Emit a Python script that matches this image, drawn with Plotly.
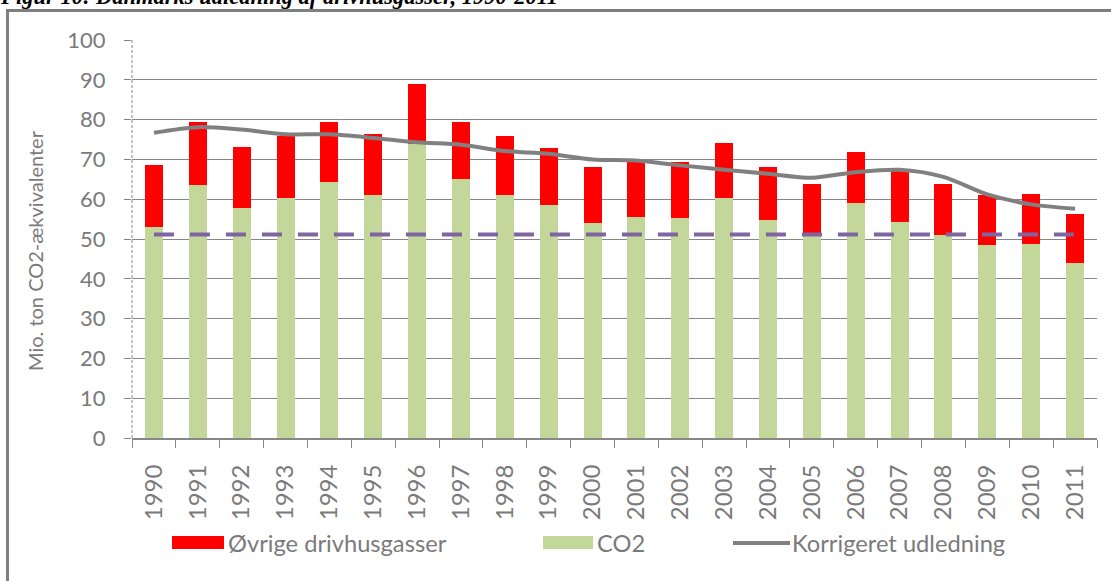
import plotly.graph_objects as go

years = [str(y) for y in range(1990, 2012)]
co2 = [53.0, 63.5, 57.7, 60.2, 64.3, 61.0, 73.9, 65.0, 61.0, 58.5, 54.0,
       55.5, 55.2, 60.2, 54.7, 51.2, 59.0, 54.2, 51.0, 48.5, 48.7, 43.9]
other = [15.7, 15.8, 15.3, 15.7, 15.2, 15.3, 15.1, 14.5, 14.8, 14.3, 14.2,
         13.8, 14.1, 13.8, 13.5, 12.5, 12.8, 13.0, 12.7, 12.5, 12.5, 12.3]
corrected = [76.7, 78.1, 77.5, 76.3, 76.3, 75.4, 74.3, 73.7, 72.1, 71.4, 70.0,
             69.7, 68.5, 67.4, 66.4, 65.4, 66.8, 67.4, 65.6, 61.2, 58.7, 57.6]
target = [51.1] * 22
yticks = list(range(0, 101, 10))

FONT = "Lato"
GRAY_TXT = "#7a7a7a"
GRID = "#878787"
RED = "#FF0000"
GREEN = "#C4D79B"
LINEGRAY = "#808080"
PURPLE = "#8064A2"

W, H = 1111, 581
L, R, T, B = 132, 14, 40, 143
PW, PH = W - L - R, H - T - B


def px(x):
    return (x - L) / PW


def py(y):
    return (H - B - y) / PH


fig = go.Figure()
fig.add_trace(go.Bar(x=years, y=co2, name="CO2", marker_color=GREEN, marker_line_width=0))
fig.add_trace(go.Bar(x=years, y=other, name="Øvrige drivhusgasser", marker_color=RED, marker_line_width=0))
fig.add_trace(go.Scatter(x=years, y=target, mode="lines", name="Mål",
                         line=dict(color=PURPLE, width=4, dash="20px,16px")))
fig.add_trace(go.Scatter(x=years, y=corrected, mode="lines", name="Korrigeret udledning",
                         line=dict(color=LINEGRAY, width=4, shape="spline", smoothing=0.8)))

shapes = [
    # outer border
    dict(type="rect", xref="paper", yref="paper", x0=px(7.5), x1=px(1125), y0=py(600), y1=py(10.5),
         line=dict(color="#7f7f7f", width=3), layer="below"),
    # dashed y axis line
    dict(type="line", xref="paper", yref="paper", x0=0, x1=0, y0=0, y1=1,
         line=dict(color=GRID, width=1, dash="3px,2px")),
    # legend symbols
    dict(type="rect", xref="paper", yref="paper", x0=px(172), x1=px(224), y0=py(549), y1=py(536),
         fillcolor=RED, line_width=0),
    dict(type="rect", xref="paper", yref="paper", x0=px(543), x1=px(593), y0=py(549), y1=py(536),
         fillcolor=GREEN, line_width=0),
    dict(type="line", xref="paper", yref="paper", x0=px(733), x1=px(790), y0=py(543), y1=py(543),
         line=dict(color=LINEGRAY, width=4)),
]

annotations = [
    dict(text="<b><i>Figur 10: Danmarks udledning af drivhusgasser, 1990-2011</i></b>",
         xref="paper", yref="paper",
         x=px(-2), y=py(11), xanchor="left", yanchor="bottom", showarrow=False,
         font=dict(family="Liberation Serif", size=22.5, color="#000000")),
    dict(text="Mio. ton CO2-ækvivalenter", xref="paper", yref="paper", x=px(35), y=py(251),
         xanchor="center", yanchor="middle", textangle=-90, showarrow=False,
         font=dict(family=FONT, size=20, color=GRAY_TXT)),
    dict(text="Øvrige drivhusgasser", xref="paper", yref="paper", x=px(226), y=py(543),
         xanchor="left", yanchor="middle", showarrow=False,
         font=dict(family=FONT, size=23.7, color=GRAY_TXT)),
    dict(text="CO2", xref="paper", yref="paper", x=px(595), y=py(543),
         xanchor="left", yanchor="middle", showarrow=False,
         font=dict(family=FONT, size=23.7, color=GRAY_TXT)),
    dict(text="Korrigeret udledning", xref="paper", yref="paper", x=px(790), y=py(543),
         xanchor="left", yanchor="middle", showarrow=False,
         font=dict(family=FONT, size=23.7, color=GRAY_TXT)),
]

fig.update_layout(
    width=W, height=H,
    margin=dict(l=L, r=R, t=T, b=B, pad=0),
    paper_bgcolor="white", plot_bgcolor="white",
    barmode="stack", bargap=0.59,
    showlegend=False,
    font=dict(family=FONT, color=GRAY_TXT),
    shapes=shapes,
    annotations=annotations,
)
fig.update_xaxes(
    type="category", showgrid=False, showline=True, linecolor=GRID, linewidth=2,
    ticks="outside", ticklen=8, tickcolor=GRID, tickwidth=1, tickson="boundaries",
    tickangle=-90, tickfont=dict(family=FONT, size=24, color=GRAY_TXT),
    ticklabelstandoff=15,
)
fig.update_yaxes(
    range=[0, 100], tickvals=yticks, showgrid=True, gridcolor=GRID, gridwidth=1,
    zeroline=False, showline=False, ticks="outside", ticklen=7, tickcolor=GRID,
    tickfont=dict(family=FONT, size=22, color=GRAY_TXT), ticklabelstandoff=14,
)

fig.write_html("out.html", config={"displayModeBar": False},
               post_script="document.body.style.margin='0px';")
